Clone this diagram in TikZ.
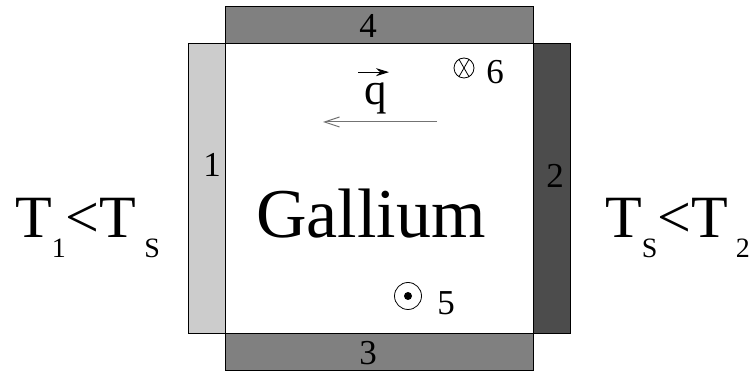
\documentclass[tikz,border=0pt]{standalone}
\usepackage{fontspec}
\setmainfont{Liberation Serif}
\usetikzlibrary{arrows.meta}

\newcommand*{\xmin}{225}
\newcommand*{\xmax}{533}
\newcommand*{\ymin}{38}
\newcommand*{\ymax}{328}
\newcommand*{\wallw}{37}
\newcommand*{\subfont}{\fontsize{28}{28}\selectfont}

\begin{document}
\begin{tikzpicture}
[
	x=1pt,y=1pt,
	wall/.style={draw=black,line width=1pt},
	numlabel/.style={anchor=base,inner sep=0pt,font=\fontsize{35}{35}\selectfont},
	sidelabel/.style={anchor=base west,inner sep=0pt,font=\fontsize{60}{60}\selectfont},
	ring/.style={circle,draw,line width=0.8pt,inner sep=0pt},
	flux/.style={-{Straight Barb[length=15pt,width=10pt]},draw=black!55,line width=1pt}
]

	\useasboundingbox (0,0) rectangle (756,372);

	% walls
	\draw[wall,fill=black!20] (\xmin-\wallw,\ymin) rectangle (\xmin,\ymax);
	\draw[wall,fill=black!70] (\xmax,\ymin) rectangle (\xmax+\wallw,\ymax);
	\draw[wall,fill=gray] (\xmin,\ymin-\wallw) rectangle (\xmax,\ymin);
	\draw[wall,fill=gray] (\xmin,\ymax) rectangle (\xmax,\ymax+\wallw);

	% metal
	\draw[wall,fill=white] (\xmin,\ymin) rectangle (\xmax,\ymax);
	\node[anchor=base,inner sep=0pt,font=\fontsize{70}{70}\selectfont] (metal) at (371,134) {Gallium};

	% wall numbers
	\node[numlabel] (n1) at (212,195) {1};
	\node[numlabel] (n2) at (555,184) {2};
	\node[numlabel] (n3) at (368,7) {3};
	\node[numlabel] (n4) at (368,334) {4};

	% heat flux
	\node[anchor=base,inner sep=0pt,font=\fontsize{45}{45}\selectfont] (qlabel) at (376,267) {q};
	\coordinate (vecstart) at ([shift={(-18,11)}]qlabel.north);
	\coordinate (vecend) at ([shift={(13,11)}]qlabel.north);
	\draw[-{Stealth[length=13pt,width=8pt]},line width=1pt] (vecstart) -- (vecend);
	\coordinate (fluxtail) at (437,250);
	\coordinate (fluxhead) at (323,250);
	\draw[flux] (fluxtail) -- (fluxhead);

	% field into the page
	\node[ring,minimum size=20pt] (into) at (464,304) {};
	\draw[line width=0.8pt] (into.60) -- (into.240);
	\draw[line width=0.8pt] (into.120) -- (into.300);
	\node[numlabel] (n6) at (495,288) {6};

	% field out of the page
	\node[ring,minimum size=27pt] (outof) at (408,76) {};
	\fill (outof.center) circle (4pt);
	\node[numlabel] (n5) at (446,57) {5};

	% temperatures
	\node[sidelabel] (cold) at (15,134) {T\raisebox{-20pt}{\subfont 1}<T\hspace{8pt}\raisebox{-20pt}{\subfont S}};
	\node[sidelabel] (hot) at (605,134) {T\raisebox{-20pt}{\subfont S}<T\hspace{8pt}\raisebox{-20pt}{\subfont 2}};

\end{tikzpicture}
\end{document}
